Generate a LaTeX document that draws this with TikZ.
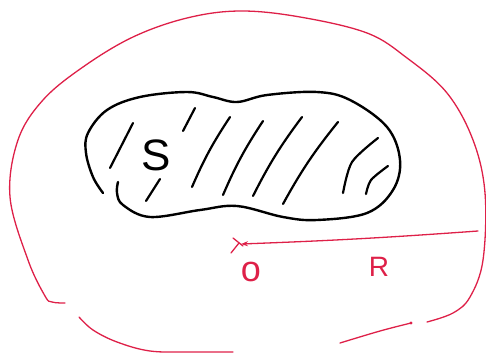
\documentclass[tikz,border=0pt]{standalone}
\usepackage{fontspec}
\setmainfont{Liberation Sans}
\usetikzlibrary{arrows.meta}
\definecolor{pen}{RGB}{222,32,72}
\tikzset{
  redpen/.style={draw=pen, line width=1.3pt, line cap=round, line join=round},
  blackpen/.style={draw=black, line width=2.4pt, line cap=round, line join=round},
  hatch/.style={draw=black, line width=2.2pt, line cap=round},
  lbl/.style={text=pen, font=\fontsize{28}{30}\selectfont, inner sep=0pt}
}
\begin{document}
\begin{tikzpicture}[x=1pt, y=-1pt]
\useasboundingbox (0,0) rectangle (486,353);
% outer red boundary pieces
\draw[redpen] plot[smooth, tension=0.6] coordinates {(65,303) (52,302) (45,296) (28,260) (10,197) (18,140) (43,100) (83,67) (133,37) (187,18) (240,11) (300,17) (367,33) (407,58) (447,93) (473,140) (485,193) (483,260) (470,297) (453,313) (427,322)};
\draw[redpen] plot[smooth, tension=0.6] coordinates {(79,317) (93,330) (117,342) (150,351) (190,352) (233,352)};
\draw[redpen] plot[smooth, tension=0.6] coordinates {(340,343) (380,331) (411,323)};
\fill[pen] (411,323) circle (1.6pt);
% black blob S
\draw[blackpen] plot[smooth, tension=0.6] coordinates {(118,182) (117,193) (123,205) (150,217) (200,210) (237,206) (283,217) (317,220) (367,213) (393,190) (400,160) (387,127) (350,100) (317,92) (267,95) (237,102) (213,97) (187,92) (140,97) (107,110) (88,133) (86,153) (93,177) (103,193)};
% hatching
\draw[hatch] (133,123) -- (110,168);
\draw[hatch] (195,108) -- (183,131);
\draw[hatch] (160,179) -- (146,201);
\draw[hatch] (230,117) to[bend right=5] (192,187);
\draw[hatch] (263,121) to[bend right=5] (223,195);
\draw[hatch] (302,117) to[bend right=5] (253,196);
\draw[hatch] (338,122) to[bend right=5] (283,204);
\draw[hatch] plot[smooth] coordinates {(378,138) (352,162) (343,193)};
\draw[hatch] plot[smooth] coordinates {(388,166) (371,180) (366,194)};
\node[font=\fontsize{44}{46}\selectfont, inner sep=0pt] (S) at (156,155) {S};
% radius arrow
\coordinate (R0) at (478,231);
\coordinate (O) at (241,244);
\draw[redpen, -{Stealth[length=7pt, width=5pt]}] (R0) to[bend left=1] (O);
\draw[redpen] (233,238) -- (243,246);
\draw[redpen] (231,253) -- (239,243);
\node[lbl, font=\fontsize{36}{38}\selectfont] (o) at (251,272) {o};
\node[lbl] (R) at (379,267) {R};
\end{tikzpicture}
\end{document}
